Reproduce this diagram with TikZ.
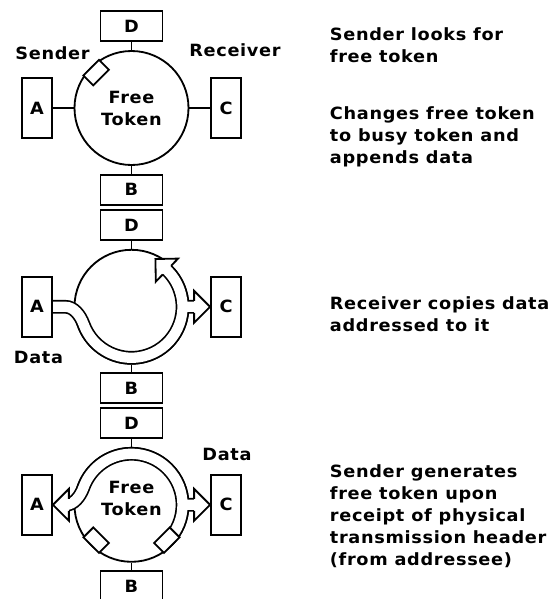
\documentclass[tikz,border=0pt]{standalone}
\usepackage{fontspec}
\newfontfamily\diagfont{DejaVu Sans}[FakeStretch=1.05,LetterSpace=4]

\tikzset{
  lbl/.style={font=\diagfont\bfseries\fontsize{12pt}{15.65pt}\selectfont, inner sep=0pt},
  station/.style={lbl, draw, fill=white},
  wide/.style={station, minimum width=1.55cm, minimum height=0.75cm},
  tall/.style={station, minimum width=0.75cm, minimum height=1.5cm},
  lan/.style={circle, draw, minimum size=2.85cm, inner sep=0pt},
  token/.style={draw, fill=white, minimum width=0.55cm, minimum height=0.35cm, inner sep=0pt},
  note/.style={lbl, anchor=west, align=left},
  band/.style={white, line width=0.3cm-1.2pt, preaction={draw=black, line width=0.3cm+1.2pt}},
  bandtip/.pic={
    \fill[white] (-0.4,0.15) -- (-0.4,0.4) -- (0,0) -- (-0.4,-0.4) -- (-0.4,-0.15) -- cycle;
    \draw[line join=miter] (-0.4,0.15) -- (-0.4,0.4) -- (0,0) -- (-0.4,-0.4) -- (-0.4,-0.15);
  }
}

\begin{document}
\begin{tikzpicture}[line width=1.3pt]
  \useasboundingbox (-3.2875,2.7) rectangle (10.4125,-12.275);
  % sender looks for free token
  \begin{scope}
    \node[lan] (ring) at (0,0) {};
    \node[wide] (D) at (0,2.04) {D};
    \node[wide] (B) at (0,-2.04) {B};
    \node[tall] (A) at (-2.3625,0) {A};
    \node[tall] (C) at (2.3625,0) {C};
    \draw (D) -- (ring); \draw (B) -- (ring);
    \draw (A) -- (ring); \draw (C) -- (ring);
    \node[token, rotate=45] (tok) at (135:1.25) {};
    \node[lbl, align=center] (txt) at (0,0) {Free\\Token};
    \node[lbl] (snd) at (-1.975,1.3625) {Sender};
    \node[lbl] (rcv) at (2.5875,1.45) {Receiver};
    \node[note] (n1) at (4.9375,1.5625) {Sender looks for\\free token};
    \node[note] (n2) at (4.9375,-0.7125) {Changes free token\\to busy token and\\appends data};
  \end{scope}
  % receiver copies data
  \begin{scope}[shift={(0,-4.97)}]
    \node[lan] (ring) at (0,0) {};
    \coordinate (ain) at (-1.9875,0);
    \coordinate (cout) at (1.64,0);
    \coordinate (tip) at (0.598,1.195);
    \draw[band] (ain) -- (-1.65,0) .. controls (-1.45,0) and (-1.284,-0.201) .. (200:1.275)
      arc[start angle=200, end angle=408, radius=1.275]
      (0:1.275) -- (cout);
    \node[wide] (D) at (0,2.04) {D};
    \node[wide] (B) at (0,-2.04) {B};
    \node[tall] (A) at (-2.3625,0) {A};
    \node[tall] (C) at (2.3625,0) {C};
    \draw (D) -- (ring); \draw (B) -- (ring);
    \pic at (C.west) {bandtip};
    \pic[rotate=136] at (tip) {bandtip};
    \node[lbl] (dat) at (-2.325,-1.2625) {Data};
    \node[note] (n3) at (4.9375,-0.19) {Receiver copies data\\addressed to it};
  \end{scope}
  % sender releases free token
  \begin{scope}[shift={(0,-9.92)}]
    \node[lan] (ring) at (0,0) {};
    \coordinate (aout) at (-1.64,0);
    \coordinate (cout) at (1.64,0);
    \draw[band] (-45:1.275) arc[start angle=-45, end angle=160, radius=1.275]
      .. controls (-1.284,0.201) and (-1.45,0) .. (aout)
      (0:1.275) -- (cout);
    \node[wide] (D) at (0,2.04) {D};
    \node[wide] (B) at (0,-2.04) {B};
    \node[tall] (A) at (-2.3625,0) {A};
    \node[tall] (C) at (2.3625,0) {C};
    \draw (D) -- (ring); \draw (B) -- (ring);
    \pic[rotate=180] at (A.east) {bandtip};
    \pic at (C.west) {bandtip};
    \node[token, rotate=135] (tok) at (225:1.25) {};
    \node[token, rotate=45] (tok2) at (-45:1.25) {};
    \node[lbl, align=center] (txt) at (0,0.15) {Free\\Token};
    \node[lbl] (dat) at (2.3875,1.2625) {Data};
    \node[note] (n4) at (4.9375,-0.2875) {Sender generates\\free token upon\\receipt of physical\\transmission header\\(from addressee)};
  \end{scope}
\end{tikzpicture}
\end{document}
